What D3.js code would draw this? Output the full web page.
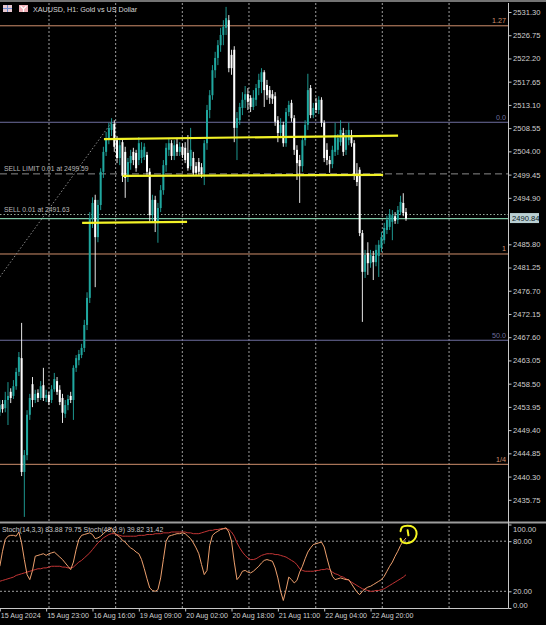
<!DOCTYPE html>
<html><head><meta charset="utf-8">
<script src="https://cdn.jsdelivr.net/npm/d3@7/dist/d3.min.js"></script>
<style>html,body{margin:0;padding:0;background:#000;overflow:hidden}svg{display:block}</style>
</head><body><svg id="c" width="546" height="625"></svg>
<script>
// ---------------- DATA ----------------
const title = "XAUUSD, H1:  Gold vs US Dollar";
const opens = [2452.9,2454.5,2453.7,2455.3,2456.9,2456.1,2458.0,2460.8,2463.5,2441.2,
2444.5,2452.4,2458.4,2455.3,2456.7,2455.7,2458.2,2455.7,2456.3,2455.3,
2457.4,2459.0,2457.3,2455.7,2452.6,2454.3,2456.1,2455.3,2461.6,2463.1,
2464.1,2465.5,2470.0,2475.3,2490.9,2494.5,2487.2,2493.5,2500.0,2503.9,
2506.6,2508.2,2509.4,2506.2,2502.7,2505.8,2503.9,2499.4,2501.7,2503.9,
2503.7,2502.3,2502.7,2502.9,2503.3,2500.0,2491.5,2494.5,2490.2,2492.9,
2496.4,2501.3,2504.3,2505.6,2503.1,2505.4,2503.9,2504.9,2504.7,2503.7,
2501.1,2502.7,2501.1,2501.9,2500.9,2499.8,2505.6,2512.1,2515.0,2519.9,
2522.3,2524.8,2526.8,2528.2,2529.7,2522.9,2523.9,2508.6,2510.1,2512.5,
2514.1,2515.2,2514.5,2512.7,2514.1,2516.4,2517.6,2519.5,2517.0,2516.0,
2515.2,2514.8,2510.1,2507.6,2509.2,2505.6,2511.7,2513.5,2510.5,2504.3,
2502.3,2501.1,2506.2,2509.2,2516.4,2511.1,2513.5,2512.1,2514.1,2509.6,
2504.3,2502.3,2501.5,2503.9,2504.3,2505.8,2507.6,2504.3,2506.2,2507.2,
2505.6,2499.4,2500.4,2488.0,2480.4,2484.1,2482.1,2483.5,2482.3,2483.5,
2485.1,2486.6,2488.6,2489.2,2490.2,2491.3,2490.6,2492.1,2493.9,2492.1];
const highs = [2455.3,2455.3,2456.9,2458.8,2457.6,2459.2,2461.6,2464.7,2470.4,2445.5,
2453.3,2456.5,2459.8,2457.3,2457.4,2459.0,2461.6,2457.3,2456.9,2458.2,
2460.6,2459.8,2458.2,2456.5,2455.3,2456.3,2456.9,2462.1,2464.1,2465.1,
2466.3,2471.0,2476.4,2492.1,2495.0,2495.5,2494.5,2500.7,2504.9,2507.8,
2509.6,2510.5,2510.1,2507.0,2506.2,2506.6,2504.9,2502.7,2504.3,2504.7,
2504.3,2506.8,2505.8,2505.6,2503.9,2500.7,2495.5,2495.3,2493.9,2497.4,
2502.3,2505.6,2506.6,2506.2,2506.2,2506.6,2505.8,2505.6,2505.8,2507.2,
2508.6,2503.9,2501.9,2502.7,2501.7,2506.2,2513.1,2516.0,2520.9,2523.5,
2525.8,2528.2,2529.7,2532.3,2530.7,2523.9,2524.6,2511.7,2513.5,2515.6,
2516.8,2516.4,2515.0,2516.0,2517.2,2519.2,2520.3,2519.9,2518.0,2516.8,
2516.0,2515.6,2510.9,2510.5,2509.8,2512.5,2513.9,2514.1,2511.1,2505.2,
2503.3,2507.0,2510.1,2519.2,2517.0,2513.5,2514.5,2514.8,2514.6,2510.1,
2505.6,2503.1,2505.1,2509.6,2507.4,2510.1,2508.6,2508.2,2509.6,2508.2,
2506.2,2501.7,2500.9,2488.6,2484.7,2486.2,2484.7,2484.5,2485.7,2486.6,
2488.2,2490.0,2491.4,2492.7,2492.5,2492.1,2493.3,2495.3,2495.8,2492.9];
const lows = [2452.2,2452.8,2452.9,2450.4,2454.7,2455.5,2457.3,2460.0,2440.4,2432.4,
2443.5,2451.4,2453.9,2454.7,2454.9,2455.3,2455.1,2454.9,2454.3,2454.7,
2456.9,2456.3,2454.3,2450.8,2451.8,2453.3,2454.7,2451.4,2460.8,2462.1,
2463.5,2464.7,2469.0,2474.3,2489.0,2477.4,2486.2,2492.5,2498.8,2503.1,
2505.4,2507.0,2503.9,2501.7,2501.3,2498.0,2494.9,2498.0,2500.4,2501.3,
2500.0,2501.3,2501.7,2502.3,2499.4,2490.2,2490.2,2488.2,2486.1,2492.1,
2495.5,2500.0,2503.1,2502.3,2502.3,2503.1,2503.1,2502.7,2501.7,2500.2,
2500.4,2499.2,2499.2,2499.4,2498.8,2497.4,2504.3,2510.5,2514.1,2518.4,
2520.9,2523.5,2524.8,2526.8,2519.5,2519.0,2505.8,2502.3,2509.2,2511.1,
2512.5,2512.1,2511.7,2512.1,2512.9,2515.0,2515.4,2512.7,2514.1,2513.3,
2513.3,2509.0,2505.8,2506.6,2504.9,2504.9,2510.9,2509.8,2503.3,2498.4,
2493.9,2500.0,2505.1,2508.2,2510.5,2510.5,2511.5,2511.3,2508.8,2501.9,
2501.3,2499.8,2500.7,2503.1,2503.3,2505.1,2503.1,2503.3,2505.2,2504.9,
2498.4,2497.2,2487.4,2470.6,2479.2,2479.8,2481.2,2478.8,2481.5,2479.4,
2484.3,2485.9,2487.8,2488.6,2486.6,2489.8,2489.8,2491.5,2491.3,2490.4];
const closes = [2454.3,2453.5,2455.3,2456.1,2455.7,2458.0,2460.8,2463.7,2441.2,2444.5,
2452.4,2455.7,2455.3,2456.5,2455.7,2458.0,2455.7,2456.3,2454.9,2457.4,
2459.4,2456.9,2454.9,2452.8,2454.3,2455.5,2455.3,2461.6,2463.5,2464.3,
2465.5,2470.0,2475.3,2490.9,2493.9,2487.2,2493.5,2500.0,2503.9,2506.6,
2508.6,2509.4,2504.9,2502.7,2505.2,2499.2,2498.8,2501.9,2503.1,2502.3,
2500.7,2505.6,2504.3,2504.9,2500.0,2491.5,2494.5,2490.2,2492.9,2496.4,
2501.3,2504.7,2505.6,2503.1,2505.2,2503.9,2504.9,2503.3,2502.3,2500.7,
2504.3,2499.8,2499.8,2500.0,2499.6,2505.6,2512.1,2515.0,2519.9,2522.3,
2524.8,2526.8,2528.4,2530.1,2520.3,2520.3,2508.6,2510.5,2512.7,2514.1,
2515.2,2513.7,2512.7,2514.5,2516.4,2518.0,2519.5,2516.0,2515.0,2514.5,
2514.3,2509.8,2507.6,2509.2,2505.6,2511.7,2513.1,2510.5,2504.3,2501.7,
2501.1,2506.2,2509.2,2516.0,2511.1,2512.5,2512.1,2514.1,2509.6,2502.7,
2502.3,2501.5,2504.3,2507.2,2506.6,2508.2,2503.9,2507.0,2508.2,2505.6,
2499.2,2498.0,2488.0,2480.4,2483.7,2482.1,2483.7,2482.3,2484.7,2485.7,
2487.2,2489.0,2490.6,2491.7,2491.5,2490.4,2492.5,2494.1,2491.9,2490.84];

const stochFast = [50,68,82,86,87,87,86,91,78,58,
40,34,45,62,63,64,65,63,65,66,
67,64,61,58,54,50,46,55,70,82,
87,88,89,90,88,83,84,86,89,92,
94,96,90,87,85,81,79,75,72,70,
67,65,58,47,35,24,21,20,22,36,
58,80,86,87,88,89,89,90,89,86,
83,78,72,65,52,40,45,75,87,90,
92,94,95,96,91,80,55,34,38,44,
45,43,42,44,47,50,54,57,58,57,
56,48,36,20,9,22,37,34,30,33,
43,50,59,67,72,76,77,78,79,73,
60,48,38,34,35,36,35,34,34,29,
24,19,16,20,23,25,26,28,30,32,
34,38,44,50,55,62,68,75,80,83.88];
const stochSlow = [32,33,34,35,36,37,39,40,41,42,
43,44,45,46,47,47,48,48,49,50,
50,50,50,49,49,48,48,49,52,55,
57,60,63,66,70,74,78,81,84,86,
88,89,89,88,87,86,86,86,86,86,
86,87,87,87,88,88,88,89,89,89,
90,90,90,91,91,91,91,91,91,90,
90,89,89,89,90,91,92,93,93,94,
94,95,95,95,94,91,86,78,72,67,
63,60,58,58,59,61,63,64,65,65,
65,64,64,63,62,61,59,57,55,52,
47,45,44,44,44,44,45,45,46,46,
47,46,43,41,40,38,37,35,33,31,
29,27,25,23,22,21,20,20,21,21,
22,23,25,27,29,31,33,35,37,39.82];
const stochLabel = "Stoch(14,3,3) 83.88 79.75 Stoch(48,9,9) 39.82 31.42";

const priceTicks = [2531.30,2526.75,2522.20,2517.65,2513.10,2508.55,2504.00,2499.45,2494.90,2485.80,
2481.25,2476.70,2472.15,2467.60,2463.05,2458.50,2453.95,2449.40,2444.85,2440.30,2435.75];
const stochTicks = [100,80,20,0];
const stochLevels = [80,20];
const timeBars = [0,17,34,51,68,85,102,119,136];
const timeLabels = ["15 Aug 2024","15 Aug 23:00","16 Aug 16:00","19 Aug 09:00","20 Aug 02:00","20 Aug 18:00","21 Aug 11:00","22 Aug 04:00","22 Aug 20:00"];
const gridBars = [18.05,42.5,66.95,91.4,115.9,140.3,164.8];

// fibonacci levels: [price, label, kind]
const fibLevels = [[2528.6,"1.27","o"],[2509.7,"0.0","b"],[2483.9,"1","o"],[2467.0,"50.0","b"],[2442.7,"1/4","o"]];
const fibAnchor = [[0,2479.4],[41,2509.7]];
const orderSellLimit = 2499.59, orderSell = 2491.63, bidPrice = 2490.84;
const orderTexts = ["SELL LIMIT 0.01 at 2499.59","SELL 0.01 at 2491.63"];
// yellow hand-drawn trendlines [[bar,price],[bar,price]]
const trendLines = [
  [[38.2,2506.4],[146.1,2507.1]],
  [[45.0,2499.2],[140.6,2499.4]],
  [[30.2,2490.0],[68.7,2490.2]]
];
// yellow scribble in stoch pane [bar, value]
const scribble = [[147.0,92],[147.6,97],[149.5,98.5],[151.6,97],[152.8,92],[152.6,85],[151.2,79.5],[149.2,77.5],[147.6,79],[147.0,83]];
const scribbleTick = [[149.6,93],[149.9,87]];

// ---------------- DRAW ----------------
const W=546,H=625;
const svg=d3.select("#c");
const FONT="'Liberation Sans',Arial,sans-serif";
const AX=508.5, MAIN_TOP=3, MAIN_BOT=521, ST_TOP=524, ST_BOT=608.5;
const x=d3.scaleLinear().domain([0,149]).range([-0.2,406.0]);
const y=d3.scaleLinear().domain([2531.30,2435.75]).range([12,499.8]);
const ys=d3.scaleLinear().domain([0,100]).range([608,524.5]);

svg.append("rect").attr("width",W).attr("height",H).attr("fill","#000");
svg.append("line").attr("x1",0).attr("x2",W).attr("y1",1).attr("y2",1).attr("stroke","#9a9a9a").attr("stroke-width",1.5);

const defs=svg.append("defs");
defs.append("clipPath").attr("id","mainClip").append("rect").attr("x",0).attr("y",MAIN_TOP).attr("width",AX).attr("height",MAIN_BOT-MAIN_TOP);
defs.append("clipPath").attr("id","stClip").append("rect").attr("x",0).attr("y",ST_TOP).attr("width",AX).attr("height",ST_BOT-ST_TOP);

const grid=svg.append("g");
gridBars.forEach(b=>{
  grid.append("line").attr("x1",x(b)).attr("x2",x(b)).attr("y1",MAIN_TOP).attr("y2",MAIN_BOT)
    .attr("stroke","#b0b0b0").attr("stroke-width",0.9).attr("stroke-dasharray","2,2");
  grid.append("line").attr("x1",x(b)).attr("x2",x(b)).attr("y1",ST_TOP+2).attr("y2",ST_BOT)
    .attr("stroke","#b0b0b0").attr("stroke-width",0.9).attr("stroke-dasharray","2,2");
});
stochLevels.forEach(v=>{
  grid.append("line").attr("x1",0).attr("x2",AX).attr("y1",ys(v)).attr("y2",ys(v))
    .attr("stroke","#b0b0b0").attr("stroke-width",0.9).attr("stroke-dasharray","2,2");
});

const main=svg.append("g").attr("clip-path","url(#mainClip)");
const fibColor={o:"#cf8f6c",b:"#6e6e9e"};
fibLevels.forEach(([p,lab,k])=>{
  main.append("line").attr("x1",0).attr("x2",AX).attr("y1",y(p)).attr("y2",y(p)).attr("stroke",fibColor[k]).attr("stroke-width",1);
  svg.append("text").attr("x",506).attr("y",y(p)-2.5).attr("text-anchor","end").attr("font-family",FONT).attr("font-size",7.2)
    .attr("fill",fibColor[k]).text(lab);
});
main.append("line").attr("x1",x(fibAnchor[0][0])).attr("y1",y(fibAnchor[0][1])).attr("x2",x(fibAnchor[1][0])).attr("y2",y(fibAnchor[1][1]))
  .attr("stroke","#8c8c8c").attr("stroke-width",1).attr("stroke-dasharray","1.5,2");
main.append("line").attr("x1",0).attr("x2",AX).attr("y1",y(orderSellLimit)).attr("y2",y(orderSellLimit))
  .attr("stroke","#8a8a8a").attr("stroke-width",1).attr("stroke-dasharray","7,4");
main.append("line").attr("x1",0).attr("x2",AX).attr("y1",y(orderSell)).attr("y2",y(orderSell))
  .attr("stroke","#9ab0a0").attr("stroke-width",1).attr("stroke-dasharray","1.5,2");
main.append("line").attr("x1",0).attr("x2",AX).attr("y1",y(bidPrice)).attr("y2",y(bidPrice))
  .attr("stroke","#7fc6a4").attr("stroke-width",1.2);
svg.append("text").attr("x",4).attr("y",y(orderSellLimit)-3).attr("font-family",FONT).attr("font-size",6.8).attr("fill","#b8b8b8").text(orderTexts[0]);
svg.append("text").attr("x",4).attr("y",y(orderSell)-3).attr("font-family",FONT).attr("font-size",6.8).attr("fill","#b8b8b8").text(orderTexts[1]);

const data=opens.map((o,i)=>({i,o,h:highs[i],l:lows[i],c:closes[i]}));
const UP="#20a79f", DN="#ffffff";
const cg=main.append("g");
cg.selectAll("line.w").data(data).join("line").attr("class","w")
  .attr("x1",d=>x(d.i)).attr("x2",d=>x(d.i)).attr("y1",d=>y(d.h)).attr("y2",d=>y(d.l))
  .attr("stroke",d=>d.c>=d.o?UP:DN).attr("stroke-width",0.9);
cg.selectAll("rect.b").data(data).join("rect").attr("class","b")
  .attr("x",d=>x(d.i)-1).attr("width",2)
  .attr("y",d=>Math.min(y(d.o),y(d.c))).attr("height",d=>Math.max(Math.abs(y(d.o)-y(d.c)),0.9))
  .attr("fill",d=>d.c>=d.o?UP:DN);

trendLines.forEach(t=>{
  main.append("line").attr("x1",x(t[0][0])).attr("y1",y(t[0][1])).attr("x2",x(t[1][0])).attr("y2",y(t[1][1]))
    .attr("stroke","#f2f227").attr("stroke-width",2.2);
});

const hd=svg.append("g");
hd.append("rect").attr("x",3).attr("y",5).attr("width",9).attr("height",7).attr("fill","#e8c8d0");
hd.append("line").attr("x1",3).attr("x2",12).attr("y1",8.5).attr("y2",8.5).attr("stroke","#6f8fd0").attr("stroke-width",1);
hd.append("line").attr("x1",7.5).attr("x2",7.5).attr("y1",5).attr("y2",12).attr("stroke","#6f8fd0").attr("stroke-width",1);
hd.append("rect").attr("x",19).attr("y",5).attr("width",9).attr("height",7).attr("fill","#f0b0b8");
hd.append("path").attr("d","M20.5,6 L23.5,9 L26.5,6 M23.5,9 L23.5,12").attr("stroke","#fff").attr("stroke-width",1.2).attr("fill","none");
svg.append("text").attr("x",33).attr("y",11.5).attr("font-family",FONT).attr("font-size",7.2).attr("fill","#d6d6d6").text(title);

const pax=svg.append("g").attr("transform",`translate(${AX},0)`)
  .call(d3.axisRight(y).tickValues(priceTicks).tickFormat(d3.format(".2f")).tickSize(3).tickPadding(1.5));
pax.select(".domain").remove();
pax.selectAll(".tick line").attr("stroke","#c8c8c8");
pax.selectAll(".tick text").attr("fill","#cfcfcf").attr("font-family",FONT).attr("font-size",7.6);
const bidY=y(bidPrice);
svg.append("rect").attr("x",510).attr("y",bidY-5.5).attr("width",29).attr("height",10).attr("fill","#b9cfd2");
svg.append("text").attr("x",512).attr("y",bidY+2.7).attr("font-family",FONT).attr("font-size",7.6).attr("fill","#0a1a22").text(d3.format(".2f")(bidPrice));

svg.append("rect").attr("x",0).attr("y",521.5).attr("width",W).attr("height",2).attr("fill","#9c9c9c");
svg.append("line").attr("x1",AX).attr("x2",AX).attr("y1",MAIN_TOP).attr("y2",ST_BOT).attr("stroke","#c8c8c8").attr("stroke-width",1);
svg.append("line").attr("x1",0).attr("x2",AX).attr("y1",ST_BOT).attr("y2",ST_BOT).attr("stroke","#c8c8c8").attr("stroke-width",1);

const st=svg.append("g").attr("clip-path","url(#stClip)");
const ln=d3.line().x((d,i)=>x(i)).y(d=>ys(d));
st.append("path").attr("d",ln(stochSlow)).attr("fill","none").attr("stroke","#c23535").attr("stroke-width",1);
st.append("path").attr("d",ln(stochFast)).attr("fill","none").attr("stroke","#eda06e").attr("stroke-width",1);
svg.append("text").attr("x",2).attr("y",532).attr("font-family",FONT).attr("font-size",6.9).attr("fill","#c8c8c8").text(stochLabel);

const sl=d3.line().x(d=>x(d[0])).y(d=>ys(d[1])).curve(d3.curveCatmullRom);
svg.append("path").attr("d",sl(scribble)).attr("fill","none").attr("stroke","#f5f520").attr("stroke-width",2).attr("stroke-linecap","round");
svg.append("path").attr("d",sl(scribbleTick)).attr("fill","none").attr("stroke","#f5f520").attr("stroke-width",2).attr("stroke-linecap","round");

const sax=svg.append("g").attr("transform",`translate(${AX},0)`)
  .call(d3.axisRight(ys).tickValues(stochTicks).tickFormat(d3.format(".2f")).tickSize(3).tickPadding(1.5));
sax.select(".domain").remove();
sax.selectAll(".tick line").attr("stroke","#c8c8c8");
sax.selectAll(".tick text").attr("fill","#cfcfcf").attr("font-family",FONT).attr("font-size",7.6)
  .attr("dy",d=>d===100?"0.9em":(d===0?"-0.1em":"0.32em"));

const tax=svg.append("g").attr("transform",`translate(0,${ST_BOT})`)
  .call(d3.axisBottom(x).tickValues(timeBars).tickFormat((d,i)=>timeLabels[i]).tickSize(3).tickPadding(1));
tax.select(".domain").remove();
tax.selectAll(".tick line").attr("stroke","#c8c8c8");
tax.selectAll(".tick text").attr("fill","#cfcfcf").attr("font-family",FONT).attr("font-size",7.1).attr("text-anchor","start").attr("dx","0.5");
</script></body></html>
